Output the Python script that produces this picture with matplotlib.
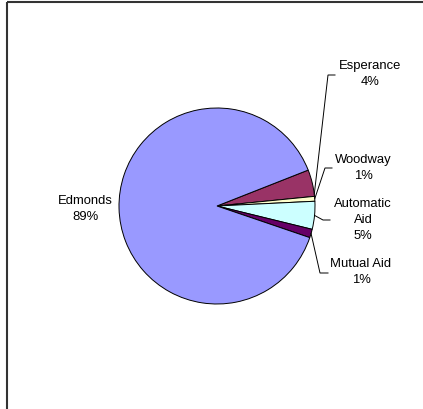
import numpy as np
import matplotlib
matplotlib.use("Agg")
import matplotlib.pyplot as plt

# ---- data ----
categories = ["Esperance", "Woodway", "Automatic\nAid", "Mutual Aid", "Edmonds"]
values = [4.4, 0.8, 4.6, 1.4, 88.8]
colors = ["#993366", "#FFFFCC", "#CCFFFF", "#660066", "#9999FF"]

# ---- layout (pixel-based, y measured from top) ----
W, H = 423, 409
center_px = (217, 206)
radius = 98
start_angle = 21.5
# label text centers (px) and leader elbow / end x (px); None = no leader
label_pos = [(370, 74), (363, 168), (363, 220), (361, 272), (85, 209)]
elbow = [(328, 75, 335), (325, 168, 332), (323, 220, 330), (320, 273, 328), None]
anchor_frac = [0.08, 0.5, 0.5, 0.5, 0.5]

plt.rcParams['font.family'] = ['Liberation Sans', 'DejaVu Sans']
fig = plt.figure(figsize=(W / 100, H / 100), dpi=100)
ax = fig.add_axes([0, 0, 1, 1])

def fy(y):
    return H - y

cx, cy = center_px[0], fy(center_px[1])
wedges, _ = ax.pie(values, colors=colors, startangle=start_angle, counterclock=False,
                   center=(cx, cy), radius=radius, frame=True,
                   wedgeprops=dict(edgecolor='black', linewidth=0.7))
ax.set_xlim(0, W)
ax.set_ylim(0, H)
ax.axis('off')

total = sum(values)
for i, (cat, v) in enumerate(zip(categories, values)):
    w = wedges[i]
    th1, th2 = w.theta1, w.theta2
    ang = np.deg2rad(th1 + (th2 - th1) * anchor_frac[i])
    px = cx + radius * np.cos(ang)
    py = cy + radius * np.sin(ang)
    pct = round(100 * v / total)
    tx, ty = label_pos[i]
    ax.text(tx, fy(ty), f"{cat}\n{pct}%", ha='center', va='center',
            fontsize=9.4, color='black', linespacing=1.45)
    if elbow[i] is not None:
        ex, ey, ex2 = elbow[i]
        ax.plot([px, ex, ex2], [py, fy(ey), fy(ey)], color='black', lw=0.7,
                solid_joinstyle='miter')

# frame (left and top border only)
ax.plot([6.5, 6.5], [0, fy(2)], color='#333333', lw=1.5, solid_capstyle='butt')
ax.plot([6.5, W], [fy(2), fy(2)], color='#333333', lw=1.5, solid_capstyle='butt')

fig.savefig("out.png", dpi=100, facecolor='white')
